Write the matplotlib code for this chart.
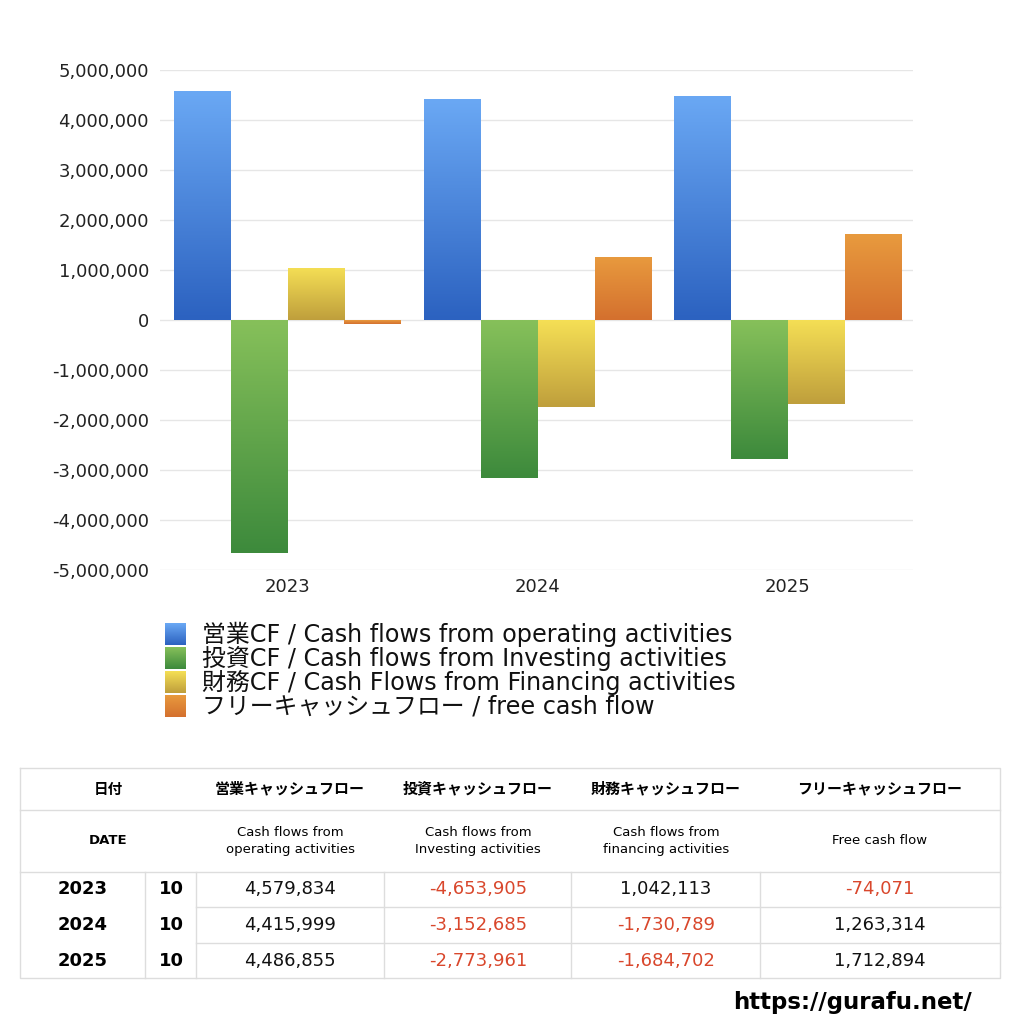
import matplotlib
matplotlib.use("Agg")
import matplotlib.pyplot as plt
import numpy as np
from matplotlib.colors import LinearSegmentedColormap
from matplotlib.ticker import FuncFormatter

plt.rcParams['font.family'] = ['DejaVu Sans', 'Noto Sans CJK JP']

years = ['2023', '2024', '2025']
months = ['10', '10', '10']
operating = [4579834, 4415999, 4486855]
investing = [-4653905, -3152685, -2773961]
financing = [1042113, -1730789, -1684702]
free_cf = [-74071, 1263314, 1712894]

legend_labels = [
    '営業CF / Cash flows from operating activities',
    '投資CF / Cash flows from Investing activities',
    '財務CF / Cash Flows from Financing activities',
    'フリーキャッシュフロー / free cash flow',
]
header_jp = ['営業キャッシュフロー', '投資キャッシュフロー', '財務キャッシュフロー', 'フリーキャッシュフロー']
header_en = ['Cash flows from\noperating activities', 'Cash flows from\nInvesting activities',
             'Cash flows from\nfinancing activities', 'Free cash flow']

# top / bottom colours of each bar gradient
grad = [('#6aa8f4', '#2c62c0'), ('#86c05a', '#3d8a3c'), ('#f5df55', '#bf9f3c'), ('#e89a3e', '#d4702e')]
red = '#d9472c'

fig = plt.figure(figsize=(10.24, 10.24), dpi=100)
ax = fig.add_axes([160 / 1024, 1 - 570 / 1024, 753 / 1024, 500 / 1024])

series = [operating, investing, financing, free_cf]
x = np.arange(len(years))
w = 0.227
for i, vals in enumerate(series):
    cmap = LinearSegmentedColormap.from_list('g%d' % i, [grad[i][1], grad[i][0]])
    bars = ax.bar(x + (i - 1.5) * w, vals, w, color='none', edgecolor='none', zorder=2)
    for b in bars:
        x0, y0 = b.get_x(), b.get_y()
        x1, y1 = x0 + b.get_width(), y0 + b.get_height()
        im = ax.imshow(np.linspace(0, 1, 100).reshape(-1, 1), cmap=cmap, origin='lower', aspect='auto',
                       extent=(x0, x1, min(y0, y1), max(y0, y1)), zorder=2)
        im.set_clip_path(b)

ax.set_xlim(-0.51, 2.5)
ax.set_ylim(-5000000, 5000000)
ax.set_yticks(np.arange(-5000000, 5000001, 1000000))
ax.yaxis.set_major_formatter(FuncFormatter(lambda v, p: '{:,.0f}'.format(v)))
ax.set_xticks(x)
ax.set_xticklabels(years)
ax.grid(axis='y', color='#e6e6e6', linewidth=1, zorder=0)
ax.set_axisbelow(True)
for s in ax.spines.values():
    s.set_visible(False)
ax.tick_params(length=0, labelsize=13, colors='#222222')
ax.tick_params(axis='y', pad=8)
ax.tick_params(axis='x', pad=6)

# overlay in pixel coordinates for legend, table and footer
ov = fig.add_axes([0, 0, 1, 1])
ov.axis('off')

for i, lab in enumerate(legend_labels):
    yc = 634 + i * 24
    cmap = LinearSegmentedColormap.from_list('l%d' % i, [grad[i][1], grad[i][0]])
    ov.imshow(np.linspace(0, 1, 50).reshape(-1, 1), cmap=cmap, origin='lower', aspect='auto',
              extent=(165, 186, yc + 11, yc - 11))
    ov.text(202, yc, lab, fontsize=17.2, va='center', ha='left', color='#111111')

# table
line_c = '#dddddd'
ov.plot([20, 1000, 1000, 20, 20], [768, 768, 978, 978, 768], color=line_c, lw=1)
for yy in [810, 872]:
    ov.plot([20, 1000], [yy, yy], color=line_c, lw=1)
for yy in [907, 943]:
    ov.plot([196, 1000], [yy, yy], color=line_c, lw=1)
for xx in [145, 196, 384, 571, 760]:
    ov.plot([xx, xx], [872, 978], color=line_c, lw=1)
ov.set_xlim(0, 1024)
ov.set_ylim(1024, 0)

col_c = [290, 478, 666, 880]
ov.text(108, 789, '日付', fontsize=10.5, fontweight='bold', ha='center', va='center')
ov.text(108, 841, 'DATE', fontsize=9.5, fontweight='bold', ha='center', va='center')
for j in range(4):
    ov.text(col_c[j], 789, header_jp[j], fontsize=10.8, fontweight='bold', ha='center', va='center')
    ov.text(col_c[j], 841, header_en[j], fontsize=9.5, ha='center', va='center', linespacing=1.45)

rows_y = [889, 925, 961]
for r in range(3):
    ov.text(83, rows_y[r], years[r], fontsize=13, fontweight='bold', ha='center', va='center')
    ov.text(171, rows_y[r], months[r], fontsize=13, fontweight='bold', ha='center', va='center')
    for j, vals in enumerate(series):
        v = vals[r]
        ov.text(col_c[j], rows_y[r], '{:,}'.format(v), fontsize=13, ha='center', va='center',
                color=red if v < 0 else '#111111')

ov.text(972, 1003, 'https://gurafu.net/', fontsize=16.5, fontweight='bold', ha='right', va='center')

fig.savefig('out.png', dpi=100)
